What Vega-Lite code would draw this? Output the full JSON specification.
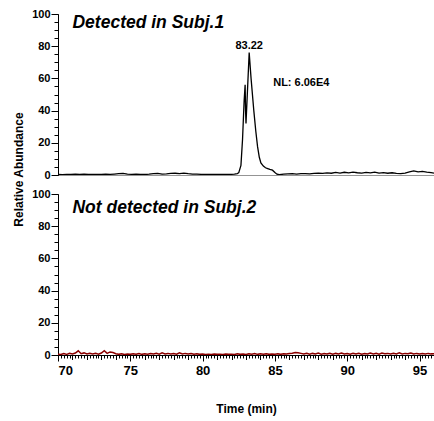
{
  "$schema": "https://vega.github.io/schema/vega-lite/v6.json",
  "padding": {"left": 12, "top": 8, "right": 0, "bottom": 6},
  "background": "white",
  "spacing": 19,
  "bounds": "flush",
  "datasets": {
    "s1": [
      {"t":70.0,"v":0.3},{"t":70.3,"v":0.2},{"t":70.6,"v":0.4},{"t":70.9,"v":0.3},{"t":71.2,"v":0.6},{"t":71.5,"v":0.4},{"t":71.8,"v":0.5},{"t":72.1,"v":0.3},{"t":72.4,"v":0.3},{"t":72.7,"v":0.4},{"t":73.0,"v":0.3},{"t":73.3,"v":0.5},{"t":73.6,"v":0.4},{"t":73.9,"v":0.6},{"t":74.2,"v":0.8},{"t":74.5,"v":1.0},{"t":74.8,"v":0.5},{"t":75.1,"v":0.4},{"t":75.4,"v":0.5},{"t":75.7,"v":0.4},{"t":76.0,"v":0.3},{"t":76.3,"v":0.5},{"t":76.6,"v":0.8},{"t":76.9,"v":1.0},{"t":77.2,"v":0.6},{"t":77.5,"v":0.7},{"t":77.8,"v":1.0},{"t":78.1,"v":1.1},{"t":78.4,"v":0.9},{"t":78.7,"v":1.2},{"t":79.0,"v":0.8},{"t":79.3,"v":0.6},{"t":79.6,"v":0.5},{"t":79.9,"v":0.4},{"t":80.2,"v":0.4},{"t":80.5,"v":0.3},{"t":80.8,"v":0.4},{"t":81.1,"v":0.3},{"t":81.4,"v":0.4},{"t":81.7,"v":0.3},{"t":82.0,"v":0.4},{"t":82.2,"v":0.5},{"t":82.4,"v":0.8},
      {"t":82.5,"v":1.5},{"t":82.65,"v":6},{"t":82.76,"v":22},{"t":82.87,"v":46},{"t":82.94,"v":56},{"t":82.97,"v":40},{"t":83.0,"v":32},{"t":83.1,"v":52},{"t":83.22,"v":76},{"t":83.35,"v":60},{"t":83.54,"v":40},{"t":83.68,"v":27},{"t":83.8,"v":17.6},{"t":83.92,"v":11},{"t":84.03,"v":7.5},{"t":84.2,"v":5.5},{"t":84.35,"v":4.5},{"t":84.5,"v":4},{"t":84.65,"v":3.5},{"t":84.83,"v":3},{"t":85.0,"v":1.5},{"t":85.14,"v":0.5},{"t":85.3,"v":0.2},
      {"t":85.6,"v":0.5},{"t":85.9,"v":0.7},{"t":86.2,"v":0.8},{"t":86.5,"v":0.6},{"t":86.8,"v":0.8},{"t":87.1,"v":0.9},{"t":87.4,"v":0.7},{"t":87.7,"v":1.0},{"t":88.0,"v":1.2},{"t":88.3,"v":1.0},{"t":88.6,"v":1.3},{"t":88.9,"v":1.1},{"t":89.2,"v":1.6},{"t":89.5,"v":1.2},{"t":89.8,"v":1.7},{"t":90.1,"v":1.3},{"t":90.4,"v":1.8},{"t":90.7,"v":1.4},{"t":91.0,"v":1.2},{"t":91.3,"v":1.6},{"t":91.6,"v":1.3},{"t":91.9,"v":1.8},{"t":92.2,"v":1.2},{"t":92.5,"v":1.5},{"t":92.8,"v":1.1},{"t":93.1,"v":1.4},{"t":93.4,"v":1.0},{"t":93.7,"v":0.9},{"t":94.0,"v":1.2},{"t":94.3,"v":2.0},{"t":94.6,"v":2.6},{"t":94.9,"v":2.0},{"t":95.2,"v":2.2},{"t":95.5,"v":1.8},{"t":95.8,"v":1.5},{"t":96.0,"v":1.2}
    ],
    "s2": [
      {"t":70.0,"v":0.5},{"t":70.2,"v":0.3},{"t":70.4,"v":0.9},{"t":70.6,"v":0.4},{"t":70.8,"v":1.0},{"t":71.0,"v":0.6},{"t":71.2,"v":1.2},{"t":71.4,"v":2.6},{"t":71.6,"v":0.8},{"t":71.8,"v":1.3},{"t":72.0,"v":0.7},{"t":72.2,"v":1.1},{"t":72.4,"v":0.6},{"t":72.6,"v":1.0},{"t":72.8,"v":0.5},{"t":73.0,"v":1.2},{"t":73.2,"v":2.7},{"t":73.4,"v":1.0},{"t":73.6,"v":1.9},{"t":73.8,"v":1.5},{"t":74.0,"v":0.8},{"t":74.2,"v":0.4},{"t":74.4,"v":0.7},{"t":74.6,"v":0.3},{"t":74.8,"v":0.6},{"t":75.0,"v":0.4},{"t":75.2,"v":0.8},{"t":75.4,"v":0.5},{"t":75.6,"v":0.9},{"t":75.8,"v":0.4},{"t":76.0,"v":0.7},{"t":76.2,"v":0.5},{"t":76.4,"v":0.9},{"t":76.6,"v":0.6},{"t":76.8,"v":1.0},{"t":77.0,"v":0.5},{"t":77.2,"v":1.3},{"t":77.4,"v":0.7},{"t":77.6,"v":1.0},{"t":77.8,"v":0.6},{"t":78.0,"v":0.9},{"t":78.2,"v":0.5},{"t":78.4,"v":1.4},{"t":78.6,"v":0.6},{"t":78.8,"v":1.0},{"t":79.0,"v":0.7},{"t":79.2,"v":0.9},{"t":79.4,"v":0.5},{"t":79.6,"v":0.7},{"t":79.8,"v":0.4},{"t":80.0,"v":0.6},{"t":80.2,"v":0.3},{"t":80.4,"v":0.5},{"t":80.6,"v":0.3},{"t":80.8,"v":0.6},{"t":81.0,"v":0.4},{"t":81.2,"v":0.5},{"t":81.4,"v":0.3},{"t":81.6,"v":0.6},{"t":81.8,"v":0.4},{"t":82.0,"v":0.5},{"t":82.2,"v":0.3},{"t":82.4,"v":0.7},{"t":82.6,"v":0.4},{"t":82.8,"v":0.6},{"t":83.0,"v":0.3},{"t":83.2,"v":0.8},{"t":83.4,"v":0.5},{"t":83.6,"v":0.9},{"t":83.8,"v":0.4},{"t":84.0,"v":0.7},{"t":84.2,"v":0.5},{"t":84.4,"v":0.8},{"t":84.6,"v":0.4},{"t":84.8,"v":0.6},{"t":85.0,"v":0.5},{"t":85.2,"v":0.7},{"t":85.4,"v":0.4},{"t":85.6,"v":0.8},{"t":85.8,"v":0.6},{"t":86.0,"v":0.9},{"t":86.2,"v":1.1},{"t":86.4,"v":1.6},{"t":86.6,"v":1.4},{"t":86.8,"v":1.0},{"t":87.0,"v":0.6},{"t":87.2,"v":1.1},{"t":87.4,"v":0.5},{"t":87.6,"v":1.0},{"t":87.8,"v":0.7},{"t":88.0,"v":1.2},{"t":88.2,"v":0.5},{"t":88.4,"v":0.9},{"t":88.6,"v":0.6},{"t":88.8,"v":1.1},{"t":89.0,"v":0.5},{"t":89.2,"v":1.0},{"t":89.4,"v":0.7},{"t":89.6,"v":1.2},{"t":89.8,"v":0.6},{"t":90.0,"v":0.9},{"t":90.2,"v":0.5},{"t":90.4,"v":1.0},{"t":90.6,"v":0.6},{"t":90.8,"v":1.1},{"t":91.0,"v":0.5},{"t":91.2,"v":0.9},{"t":91.4,"v":0.6},{"t":91.6,"v":1.2},{"t":91.8,"v":0.7},{"t":92.0,"v":1.1},{"t":92.2,"v":0.5},{"t":92.4,"v":1.2},{"t":92.6,"v":0.8},{"t":92.8,"v":1.0},{"t":93.0,"v":0.6},{"t":93.2,"v":1.1},{"t":93.4,"v":0.7},{"t":93.6,"v":1.3},{"t":93.8,"v":0.6},{"t":94.0,"v":1.0},{"t":94.2,"v":0.8},{"t":94.4,"v":1.2},{"t":94.6,"v":0.6},{"t":94.8,"v":1.0},{"t":95.0,"v":0.7},{"t":95.2,"v":0.9},{"t":95.4,"v":0.6},{"t":95.6,"v":1.0},{"t":95.8,"v":0.7},{"t":96.0,"v":0.8}
    ]
  },
  "vconcat": [
    {
      "width": 376,
      "height": 161,
      "layer": [
        {
          "data": {"name": "s1"},
          "mark": {"type": "line", "color": "black", "strokeWidth": 1.3, "clip": true},
          "encoding": {
            "x": {"field": "t", "type": "quantitative", "scale": {"domain": [70, 96], "nice": false, "zero": false},
                  "axis": {"orient": "bottom", "labels": false, "ticks": false, "title": null, "domainColor": "#666", "domainWidth": 0.7}},
            "y": {"field": "v", "type": "quantitative", "scale": {"domain": [0, 100], "nice": false},
                  "axis": {"orient": "left", "values": [0, 20, 40, 60, 80, 100], "tickSize": 7, "labelFontSize": 11, "labelPadding": 1,
                           "title": "Relative Abundance", "titleFontSize": 12, "titleX": -40, "titleY": 155, "titleAngle": -90, "titleAlign": "center", "titleBaseline": "middle"}}
          }
        },
        {
          "data": {"name": "s1"},
          "mark": {"type": "line", "opacity": 0},
          "encoding": {
            "x": {"field": "t", "type": "quantitative", "axis": null},
            "y": {"field": "v", "type": "quantitative",
                  "axis": {"orient": "left", "tickCount": 20, "tickSize": 4, "labels": false, "domain": false, "title": null}}
          }
        },
        {
          "data": {"values": [{}]},
          "mark": {"type": "text", "text": "Detected in Subj.1", "align": "left", "baseline": "alphabetic", "font": "Liberation Sans", "fontSize": 17.5, "fontWeight": "bold", "fontStyle": "italic", "color": "black"},
          "encoding": {"x": {"datum": 71, "type": "quantitative", "axis": null}, "y": {"datum": 91, "type": "quantitative", "axis": null}}
        },
        {
          "data": {"values": [{}]},
          "mark": {"type": "text", "text": "83.22", "align": "center", "baseline": "alphabetic", "font": "Liberation Sans", "fontSize": 11, "fontWeight": "bold", "color": "black"},
          "encoding": {"x": {"datum": 83.22, "type": "quantitative", "axis": null}, "y": {"datum": 78.5, "type": "quantitative", "axis": null}}
        },
        {
          "data": {"values": [{}]},
          "mark": {"type": "text", "text": "NL: 6.06E4", "align": "left", "baseline": "alphabetic", "font": "Liberation Sans", "fontSize": 11, "fontWeight": "bold", "color": "black"},
          "encoding": {"x": {"datum": 84.88, "type": "quantitative", "axis": null}, "y": {"datum": 55.4, "type": "quantitative", "axis": null}}
        }
      ],
      "resolve": {"axis": {"y": "independent", "x": "independent"}}
    },
    {
      "width": 376,
      "height": 161,
      "layer": [
        {
          "data": {"name": "s2"},
          "mark": {"type": "line", "color": "#8b0000", "strokeWidth": 1.5, "clip": true},
          "encoding": {
            "x": {"field": "t", "type": "quantitative", "scale": {"domain": [70, 96], "nice": false, "zero": false},
                  "axis": {"orient": "bottom", "values": [70, 75, 80, 85, 90, 95], "tickSize": 6, "labelFontSize": 13, "labelPadding": 3,
                           "title": "Time (min)", "titleFontSize": 12, "titleX": 188, "titleY": 57, "titleAlign": "center", "titleBaseline": "alphabetic"}},
            "y": {"field": "v", "type": "quantitative", "scale": {"domain": [0, 100], "nice": false},
                  "axis": {"orient": "left", "values": [0, 20, 40, 60, 80, 100], "tickSize": 7, "labelFontSize": 11, "labelPadding": 1, "title": null}}
          }
        },
        {
          "data": {"name": "s2"},
          "mark": {"type": "line", "opacity": 0},
          "encoding": {
            "x": {"field": "t", "type": "quantitative", "axis": {"orient": "bottom", "tickCount": 130, "tickSize": 3, "labels": false, "domain": false, "title": null}},
            "y": {"field": "v", "type": "quantitative",
                  "axis": {"orient": "left", "tickCount": 20, "tickSize": 4, "labels": false, "domain": false, "title": null}}
          }
        },
        {
          "data": {"name": "s2"},
          "mark": {"type": "line", "opacity": 0},
          "encoding": {
            "x": {"field": "t", "type": "quantitative", "axis": {"orient": "bottom", "tickCount": 26, "tickSize": 4.5, "labels": false, "domain": false, "title": null}},
            "y": {"field": "v", "type": "quantitative", "axis": null}
          }
        },
        {
          "data": {"values": [{}]},
          "mark": {"type": "text", "text": "Not detected in Subj.2", "align": "left", "baseline": "alphabetic", "font": "Liberation Sans", "fontSize": 17.5, "fontWeight": "bold", "fontStyle": "italic", "color": "black"},
          "encoding": {"x": {"datum": 71, "type": "quantitative", "axis": null}, "y": {"datum": 88.5, "type": "quantitative", "axis": null}}
        }
      ],
      "resolve": {"axis": {"y": "independent", "x": "independent"}}
    }
  ],
  "config": {
    "view": {"stroke": null},
    "axis": {"labelFont": "Liberation Sans", "labelFontWeight": "bold", "titleFont": "Liberation Sans", "titleFontWeight": "bold",
             "grid": false, "domainColor": "black", "tickColor": "black", "labelColor": "black", "titleColor": "black", "tickWidth": 1, "domainWidth": 1}
  }
}
